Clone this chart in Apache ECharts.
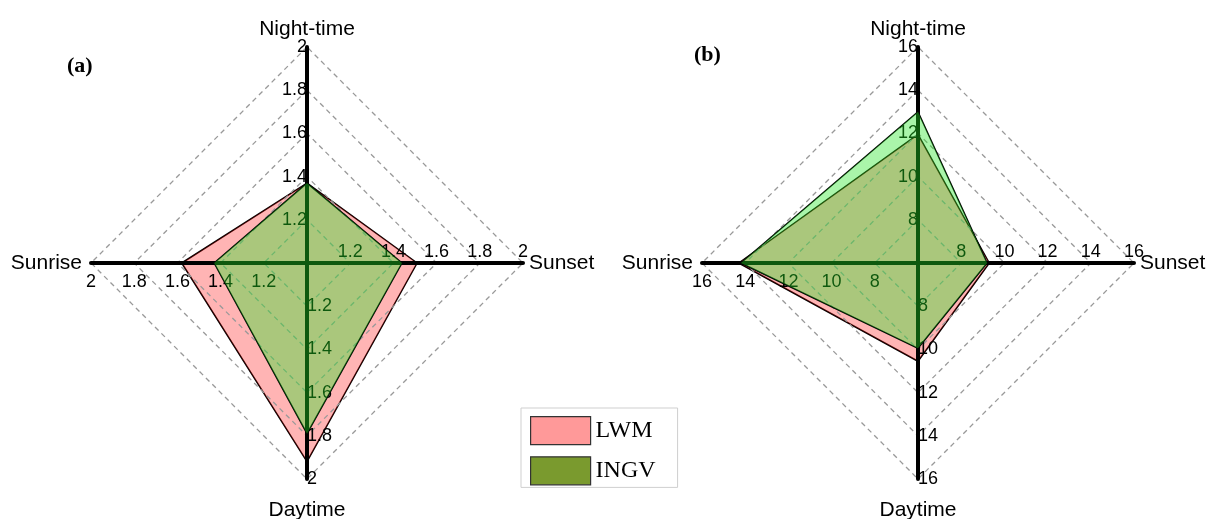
<!DOCTYPE html>
<html>
<head>
<meta charset="utf-8">
<script src="https://cdn.jsdelivr.net/npm/echarts@6/dist/echarts.min.js"></script>
<style>
html,body{margin:0;padding:0;background:#fff;}
#c{width:1210px;height:519px;}
</style>
</head>
<body>
<div id="c"></div>
<script>
// Indicator order (counter-clockwise from top): Night-time, Sunrise, Daytime, Sunset
const indicatorNames = ['Night-time', 'Sunrise', 'Daytime', 'Sunset'];
const seriesNames = ['LWM', 'INGV'];
const rangeA = [1, 2];
const rangeB = [6, 16];
const lwmA = [1.37, 1.58, 1.92, 1.51];
const ingvA = [1.37, 1.43, 1.79, 1.44];
const lwmB = [11.95, 14.3, 10.55, 9.3];
const ingvB = [13.0, 14.2, 9.95, 9.2];
const panelLabels = ['(a)', '(b)'];

const SANS = 'Liberation Sans, Arial, sans-serif';
const SERIF = 'Liberation Serif, Times New Roman, serif';
// per-direction label/name placement tweaks
const labelMargins = [0, 10, 0, 2];
const nameGaps = [7, 9, 21, 6];

const chart = echarts.init(document.getElementById('c'), null, {renderer: 'canvas'});

function radarCfg(center, range) {
  return {
    z: 1,
    center: center,
    radius: 216,
    startAngle: 90,
    shape: 'polygon',
    splitNumber: 5,
    nameMoveOverlap: false,
    indicator: indicatorNames.map((n, i) => ({
      name: n, min: range[0], max: range[1],
      nameGap: nameGaps[i],
      nameMoveOverlap: false,
      axisLabel: {margin: labelMargins[i]}
    })),
    axisName: {color: '#000', fontSize: 21, fontFamily: SANS},
    axisLine: {show: true, lineStyle: {color: '#000', width: 4}},
    axisTick: {show: false},
    axisLabel: {show: true, color: '#000', fontSize: 18, fontFamily: SANS, showMinLabel: false, hideOverlap: false},
    splitLine: {show: true, lineStyle: {color: '#999', width: 1.3, type: [5, 4]}},
    splitArea: {show: false}
  };
}

const lwmStyle = {
  lineStyle: {color: '#000', width: 1.5},
  areaStyle: {color: 'rgba(255,0,0,0.295)', opacity: 1},
  itemStyle: {color: '#ff9999'}
};
const ingvStyle = {
  lineStyle: {color: '#000', width: 1.5},
  areaStyle: {color: 'rgba(35,230,35,0.39)', opacity: 1},
  itemStyle: {color: '#7a9a2e'}
};

function mkSeries(radarIndex, name, values, style, z) {
  return Object.assign({
    type: 'radar', radarIndex: radarIndex, symbol: 'none', z: z, name: name,
    data: [{name: name, value: values}]
  }, style);
}

const option = {
  backgroundColor: '#fff',
  animation: false,
  title: [
    {text: panelLabels[0], left: 62, top: 50, textStyle: {fontFamily: SERIF, fontWeight: 'bold', fontSize: 22, color: '#000'}},
    {text: panelLabels[1], left: 689, top: 39, textStyle: {fontFamily: SERIF, fontWeight: 'bold', fontSize: 22, color: '#000'}}
  ],
  legend: {
    orient: 'vertical',
    left: 521,
    top: 408,
    itemWidth: 60,
    itemHeight: 28,
    itemGap: 11,
    padding: [8, 22, 2, 9],
    borderColor: '#cfcfcf',
    borderWidth: 1,
    icon: 'rect',
    textStyle: {fontFamily: SERIF, fontSize: 24, color: '#000'},
    data: [
      {name: seriesNames[0], itemStyle: {color: '#ff9999', borderColor: '#333', borderWidth: 1.2}},
      {name: seriesNames[1], itemStyle: {color: '#7a9a2e', borderColor: '#333', borderWidth: 1.2}}
    ]
  },
  radar: [radarCfg([307, 263], rangeA), radarCfg([918, 263], rangeB)],
  series: [
    mkSeries(0, seriesNames[0], lwmA, lwmStyle, 0),
    mkSeries(0, seriesNames[1], ingvA, ingvStyle, 2),
    mkSeries(1, seriesNames[0], lwmB, lwmStyle, 0),
    mkSeries(1, seriesNames[1], ingvB, ingvStyle, 2)
  ]
};
chart.setOption(option);
</script>
</body>
</html>
